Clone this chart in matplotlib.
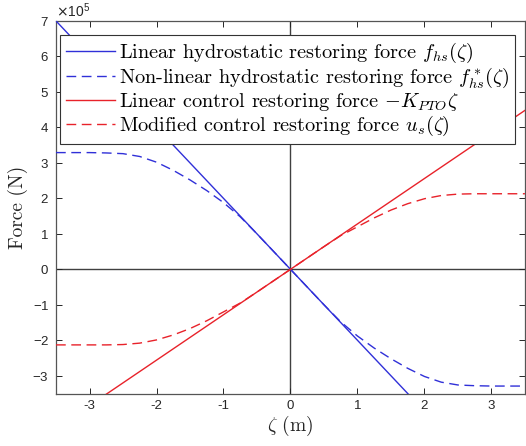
import numpy as np
import matplotlib
matplotlib.use('Agg')
import matplotlib.pyplot as plt
from matplotlib.ticker import ScalarFormatter

plt.rcParams['mathtext.fontset'] = 'cm'
plt.rcParams['axes.unicode_minus'] = False
plt.rcParams['font.family'] = ['Liberation Sans', 'DejaVu Sans']

# --- data (force in N) ---
zeta_lin = [-3.5, 3.5]
f_hs_lin = [7.0e5, -7.0e5]          # linear hydrostatic
k_pto_lin = [-4.48e5, 4.48e5]       # -K_PTO * zeta

zeta_nl = [-3.5, -3.0, -2.75, -2.5, -2.25, -2.0, -1.75, -1.5, -1.25, -1.0, -0.75, -0.5, -0.25,
           0.0, 0.25, 0.5, 0.75, 1.0, 1.25, 1.5, 1.75, 2.0, 2.25, 2.5, 2.75, 3.0, 3.5]
f_hs_nl = [3.29e5, 3.29e5, 3.28e5, 3.26e5, 3.18e5, 3.02e5, 2.79e5, 2.52e5, 2.22e5, 1.88e5, 1.48e5, 1.0e5, 0.5e5,
           0.0, -0.5e5, -1.0e5, -1.48e5, -1.88e5, -2.22e5, -2.52e5, -2.79e5, -3.02e5, -3.18e5, -3.26e5, -3.28e5, -3.29e5, -3.29e5]
u_s = [-2.13e5, -2.13e5, -2.13e5, -2.12e5, -2.08e5, -1.99e5, -1.85e5, -1.67e5, -1.45e5, -1.2e5, -0.95e5, -0.64e5, -0.32e5,
       0.0, 0.32e5, 0.64e5, 0.95e5, 1.2e5, 1.45e5, 1.67e5, 1.85e5, 1.99e5, 2.08e5, 2.12e5, 2.13e5, 2.13e5, 2.13e5]

BLUE = '#3030d8'
RED = '#e8222a'
AXC = '#262626'

fig = plt.figure(figsize=(5.26, 4.46), dpi=100)
ax = fig.add_axes([0.1065, 0.1177, 0.8915, 0.8353])

ax.axhline(0, color='#404040', lw=1.0, zorder=1)
ax.axvline(0, color='#404040', lw=1.0, zorder=1)

ax.plot(zeta_lin, f_hs_lin, color=BLUE, lw=1.0, zorder=3,
        label=r'Linear hydrostatic restoring force $f_{hs}(\zeta)$')
ax.plot(zeta_nl, f_hs_nl, color=BLUE, lw=1.0, ls=(0, (7, 4)), zorder=3,
        label=r'Non-linear hydrostatic restoring force $f^*_{hs}(\zeta)$')
ax.plot(zeta_lin, k_pto_lin, color=RED, lw=1.0, zorder=3,
        label=r'Linear control restoring force $-K_{PTO}\zeta$')
ax.plot(zeta_nl, u_s, color=RED, lw=1.0, ls=(0, (7, 4)), zorder=3,
        label=r'Modified control restoring force $u_s(\zeta)$')

ax.set_xlim(-3.5, 3.5)
ax.set_ylim(-3.5e5, 7e5)
ax.set_xticks([-3, -2, -1, 0, 1, 2, 3])
ax.set_yticks(np.arange(-3, 8) * 1e5)

fmt = ScalarFormatter(useMathText=True)
fmt.set_powerlimits((0, 0))
ax.yaxis.set_major_formatter(fmt)
ot = ax.yaxis.get_offset_text()
ot.set_math_fontfamily('dejavusans')
ot.set_fontsize(10)
ot.set_color(AXC)

ax.tick_params(direction='in', top=True, right=True, length=4, width=0.7,
               labelsize=9.5, colors=AXC, pad=5)
for s in ax.spines.values():
    s.set_color('#555555')
    s.set_linewidth(0.9)

ax.set_xlabel(r'$\zeta$ (m)', family='cmr10', fontsize=14, color=AXC, labelpad=1)
ax.set_ylabel('Force (N)', family='cmr10', fontsize=14, color=AXC, labelpad=3)

leg = ax.legend(loc='upper left', bbox_to_anchor=(0.0085, 0.962), borderaxespad=0,
                prop={'family': 'cmr10', 'size': 14.6}, handlelength=2.4, handletextpad=0.2,
                labelspacing=0.03, borderpad=0.3, fancybox=False, framealpha=1)
leg.get_frame().set_edgecolor('#333333')
leg.get_frame().set_linewidth(0.8)

fig.savefig('out.png', dpi=100)
